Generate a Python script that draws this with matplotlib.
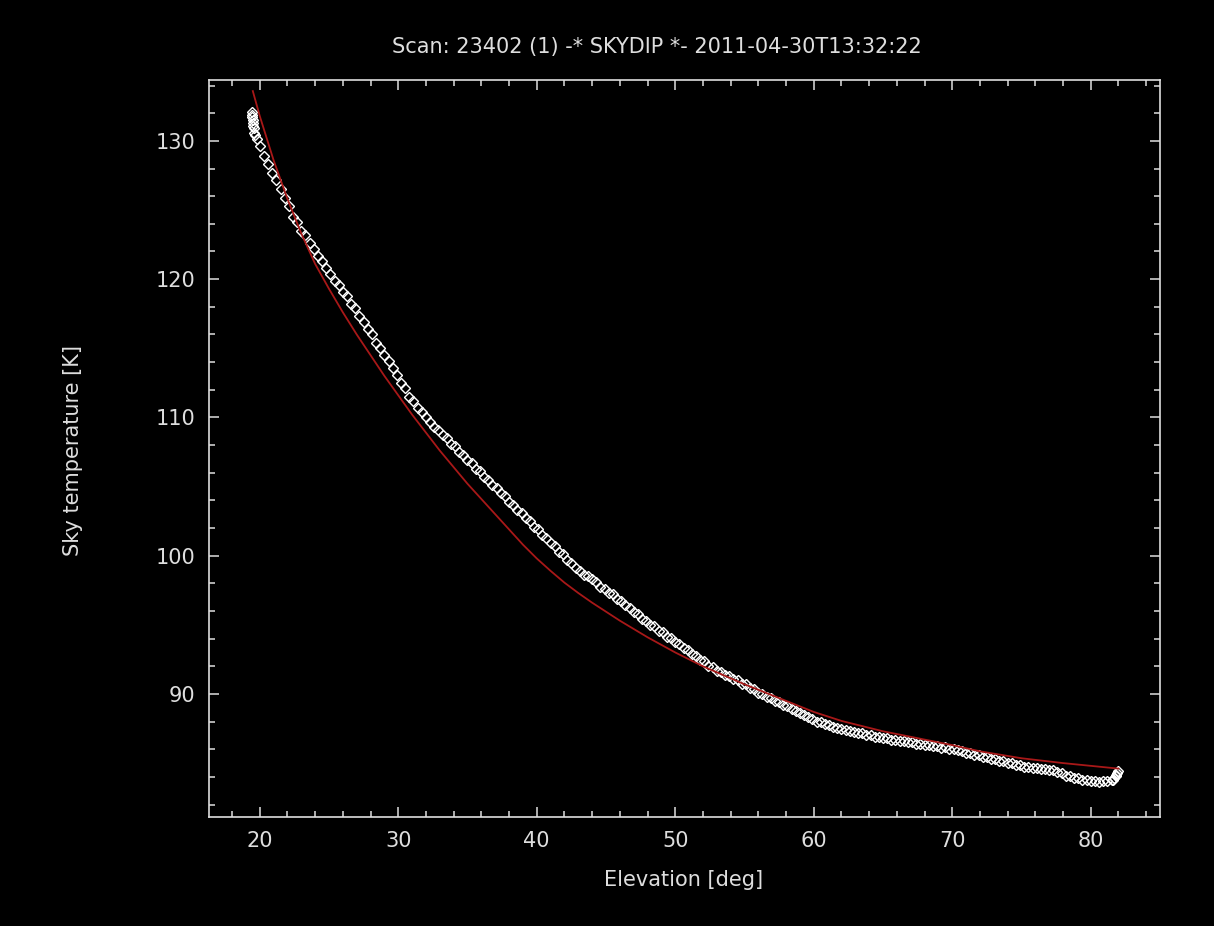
import matplotlib
matplotlib.use("Agg")
import matplotlib.pyplot as plt
from matplotlib.ticker import MultipleLocator

#skydip scan data
elevation = [
    19.45, 19.46, 19.47, 19.48, 19.50, 19.52, 19.55, 19.60, 19.65, 19.80,
    20.0, 20.3, 20.6, 20.9, 21.2, 21.5, 21.8, 22.1, 22.4, 22.7,
    23.0, 23.3, 23.6, 23.9, 24.2, 24.5, 24.8, 25.1, 25.4, 25.7,
    26.0, 26.3, 26.6, 26.9, 27.2, 27.5, 27.8, 28.1, 28.4, 28.7,
    29.0, 29.3, 29.6, 29.9, 30.2, 30.5, 30.8, 31.1, 31.4, 31.7,
    32.0, 32.3, 32.6, 32.9, 33.2, 33.5, 33.8, 34.1, 34.4, 34.7,
    35.0, 35.3, 35.6, 35.9, 36.2, 36.5, 36.8, 37.1, 37.4, 37.7,
    38.0, 38.3, 38.6, 38.9, 39.2, 39.5, 39.8, 40.1, 40.4, 40.7,
    41.0, 41.3, 41.6, 41.9, 42.2, 42.5, 42.8, 43.1, 43.4, 43.7,
    44.0, 44.3, 44.6, 44.9, 45.2, 45.5, 45.8, 46.1, 46.4, 46.7,
    47.0, 47.3, 47.6, 47.9, 48.2, 48.5, 48.8, 49.1, 49.4, 49.7,
    50.0, 50.3, 50.6, 50.9, 51.2, 51.5, 51.8, 52.1, 52.4, 52.7,
    53.0, 53.3, 53.6, 53.9, 54.2, 54.5, 54.8, 55.1, 55.4, 55.7,
    56.0, 56.3, 56.6, 56.9, 57.2, 57.5, 57.8, 58.1, 58.4, 58.7,
    59.0, 59.3, 59.6, 59.9, 60.2, 60.5, 60.8, 61.1, 61.4, 61.7,
    62.0, 62.3, 62.6, 62.9, 63.2, 63.5, 63.8, 64.1, 64.4, 64.7,
    65.0, 65.3, 65.6, 65.9, 66.2, 66.5, 66.8, 67.1, 67.4, 67.7,
    68.0, 68.3, 68.6, 68.9, 69.2, 69.5, 69.8, 70.1, 70.4, 70.7,
    71.0, 71.3, 71.6, 71.9, 72.2, 72.5, 72.8, 73.1, 73.4, 73.7,
    74.0, 74.3, 74.6, 74.9, 75.2, 75.5, 75.8, 76.1, 76.4, 76.7,
    77.0, 77.3, 77.6, 77.9, 78.2, 78.5, 78.8, 79.1, 79.4, 79.7,
    80.0, 80.3, 80.6, 80.9, 81.2, 81.5, 81.6, 81.7, 81.8, 81.85,
    81.9, 81.95,
]
sky_temp = [
    132.1, 131.9, 131.7, 131.5, 131.3, 131.1, 130.9, 130.6, 130.4, 130.1,
    129.6, 128.9, 128.3, 127.7, 127.2, 126.5, 125.9, 125.3, 124.5, 124.1,
    123.5, 123.2, 122.6, 122.2, 121.7, 121.3, 120.8, 120.4, 119.9, 119.6,
    119.1, 118.8, 118.2, 117.9, 117.3, 116.9, 116.4, 116.0, 115.4, 115.0,
    114.5, 114.1, 113.6, 113.1, 112.5, 112.1, 111.5, 111.2, 110.7, 110.4,
    110.0, 109.7, 109.3, 109.1, 108.7, 108.5, 108.1, 107.9, 107.5, 107.3,
    106.9, 106.7, 106.3, 106.1, 105.7, 105.5, 105.1, 104.9, 104.5, 104.3,
    103.9, 103.7, 103.3, 103.1, 102.7, 102.5, 102.1, 101.9, 101.5, 101.3,
    100.9, 100.7, 100.3, 100.1, 99.7, 99.5, 99.1, 98.9, 98.6, 98.5,
    98.3, 98.1, 97.7, 97.6, 97.3, 97.2, 96.85, 96.7, 96.4, 96.2,
    95.9, 95.75, 95.4, 95.3, 95.0, 94.9, 94.55, 94.45, 94.15, 94.05,
    93.75, 93.6, 93.3, 93.2, 92.9, 92.75, 92.45, 92.35, 92.05, 91.95,
    91.65, 91.6, 91.35, 91.3, 91.05, 91.0, 90.75, 90.7, 90.45, 90.35,
    90.1, 90.0, 89.8, 89.7, 89.5, 89.4, 89.2, 89.1, 88.9, 88.8,
    88.6, 88.5, 88.3, 88.2, 88.0, 87.95, 87.8, 87.75, 87.6, 87.55,
    87.45, 87.4, 87.3, 87.25, 87.15, 87.15, 87.0, 87.0, 86.9, 86.9,
    86.8, 86.8, 86.7, 86.7, 86.6, 86.6, 86.5, 86.5, 86.4, 86.4,
    86.3, 86.3, 86.2, 86.2, 86.1, 86.15, 86.05, 86.05, 85.95, 85.9,
    85.75, 85.75, 85.6, 85.6, 85.45, 85.45, 85.3, 85.3, 85.15, 85.15,
    85.0, 85.0, 84.85, 84.85, 84.75, 84.75, 84.65, 84.65, 84.55, 84.6,
    84.5, 84.5, 84.35, 84.25, 84.1, 84.1, 83.95, 83.95, 83.8, 83.8,
    83.7, 83.7, 83.65, 83.7, 83.7, 83.8, 83.75, 83.95, 84.1, 84.15,
    84.25, 84.4,
]

#fitted skydip model (red line)
fit_elevation = [
    19.5, 20.0, 21.0, 22.0, 23.0, 24.0, 25.0, 26.0, 27.0, 28.0,
    29.0, 30.0, 31.0, 32.0, 33.0, 34.0, 35.0, 36.0, 37.0, 38.0,
    39.0, 40.0, 41.0, 42.0, 43.0, 44.0, 45.0, 46.0, 47.0, 48.0,
    50.0, 52.0, 55.0, 58.0, 60.0, 62.0, 65.0, 68.0, 70.0, 72.0,
    75.0, 78.0, 80.0, 82.0,
]
fit_temp = [
    133.6, 131.8, 128.6, 125.8, 123.3, 121.1, 119.3, 117.6, 116.0, 114.5,
    113.0, 111.6, 110.2, 108.9, 107.6, 106.4, 105.2, 104.1, 103.0, 101.9,
    100.8, 99.8, 98.9, 98.05, 97.3, 96.6, 95.95, 95.3, 94.7, 94.1,
    93.0, 92.0, 90.7, 89.5, 88.7, 88.05, 87.3, 86.7, 86.3, 85.85,
    85.35, 85.0, 84.8, 84.6,
]

title = "Scan: 23402 (1) -* SKYDIP *- 2011-04-30T13:32:22"
fg = "#dedede"
font = "DejaVu Sans"
fsize = 15

fig = plt.figure(figsize=(12.14, 9.26), dpi=100, facecolor="black")
ax = fig.add_axes([0.1722, 0.1177, 0.7833, 0.7959], facecolor="black")

#data as hollow diamonds, fit as thin dark red line
ax.plot(elevation, sky_temp, linestyle="none", marker="D", markersize=5,
        markerfacecolor="none", markeredgecolor="white", markeredgewidth=1.0)
ax.plot(fit_elevation, fit_temp, color="#a81818", linewidth=1.3)

ax.set_xlim(16.34, 85.0)
ax.set_ylim(81.1, 134.4)

ax.xaxis.set_major_locator(MultipleLocator(10))
ax.xaxis.set_minor_locator(MultipleLocator(2))
ax.yaxis.set_major_locator(MultipleLocator(10))
ax.yaxis.set_minor_locator(MultipleLocator(2))

ax.tick_params(which="both", direction="in", top=True, right=True, colors=fg)
ax.tick_params(which="major", length=7.5, width=1.1, labelsize=fsize, pad=10)
ax.tick_params(which="minor", length=4.2, width=1.1)
for lab in ax.get_xticklabels() + ax.get_yticklabels():
    lab.set_family(font)
for sp in ax.spines.values():
    sp.set_color(fg)
    sp.set_linewidth(1.2)

fig.text(0.541, 0.949, title, color=fg, fontsize=fsize, family=font,
         ha="center", va="center")
fig.text(0.563, 0.050, "Elevation [deg]", color=fg, fontsize=fsize, family=font,
         ha="center", va="center")
fig.text(0.060, 0.514, "Sky temperature [K]", color=fg, fontsize=fsize, family=font,
         ha="center", va="center", rotation=90)

fig.savefig("out.png", dpi=100, facecolor="black")
